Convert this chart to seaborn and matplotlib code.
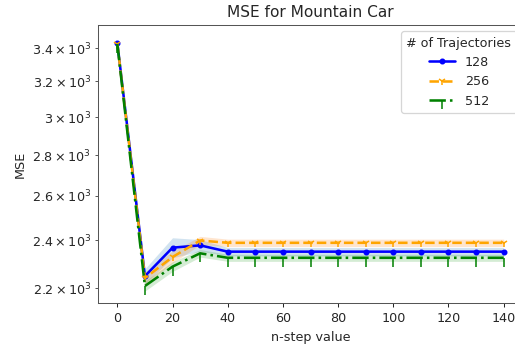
import numpy as np
import pandas as pd
import matplotlib
matplotlib.use("Agg")
import matplotlib.pyplot as plt
import seaborn as sns

nsteps = [0, 10, 20, 30, 40, 50, 60, 70, 80, 90, 100, 110, 120, 130, 140]
mse_128 = [3432, 2248, 2367, 2377, 2350, 2350, 2350, 2350, 2350, 2350, 2350, 2350, 2350, 2350, 2350]
mse_256 = [3428, 2240, 2327, 2398, 2388, 2388, 2388, 2388, 2388, 2388, 2388, 2388, 2388, 2388, 2388]
mse_512 = [3425, 2208, 2287, 2343, 2324, 2324, 2324, 2324, 2324, 2324, 2324, 2324, 2324, 2324, 2324]
ci_128 = [8, 30, 43, 25, 18, 18, 18, 18, 18, 18, 18, 18, 18, 18, 18]
ci_256 = [8, 25, 25, 18, 16, 16, 16, 16, 16, 16, 16, 16, 16, 16, 16]
ci_512 = [8, 20, 20, 16, 15, 15, 15, 15, 15, 15, 15, 15, 15, 15, 15]
labels = ["128", "256", "512"]

sns.set_style("ticks")
plt.rcParams['font.family'] = ['DejaVu Sans']

DPI = 92
fig = plt.figure(figsize=(515 / DPI, 344 / DPI), dpi=DPI)
ax = fig.add_axes([98/515, 1 - 303/344, 425/515, 278/344])

series = [
    (mse_128, ci_128, "blue", "C0", "-", ".", 7),
    (mse_256, ci_256, "orange", "C1", "--", "1", 6),
    (mse_512, ci_512, "green", "C2", "-.", 3, 7),
]
for lab, (vals, ci, col, bandcol, ls, mk, ms) in zip(labels, series):
    df = pd.DataFrame({"n": nsteps, "mse": vals})
    lo = np.array(vals) - np.array(ci)
    hi = np.array(vals) + np.array(ci)
    ax.fill_between(nsteps, lo, hi, color=bandcol, alpha=0.2, linewidth=0)
    sns.lineplot(data=df, x="n", y="mse", ax=ax, color=col, linestyle=ls,
                 marker=mk, markersize=ms, linewidth=2, label=lab,
                 markeredgecolor=col, markeredgewidth=1.2)

ax.set_yscale("log")
ax.set_ylim(2141, 3545)
ax.set_xlim(-7, 147)
ax.set_title("MSE for Mountain Car", fontsize=12)
ax.set_xlabel("n-step value", labelpad=5)
ax.set_ylabel("MSE")
for s in ax.spines.values():
    s.set_color("#555555")
ax.legend(title="# of Trajectories", loc="upper right")
fig.savefig("out.png", dpi=DPI)
